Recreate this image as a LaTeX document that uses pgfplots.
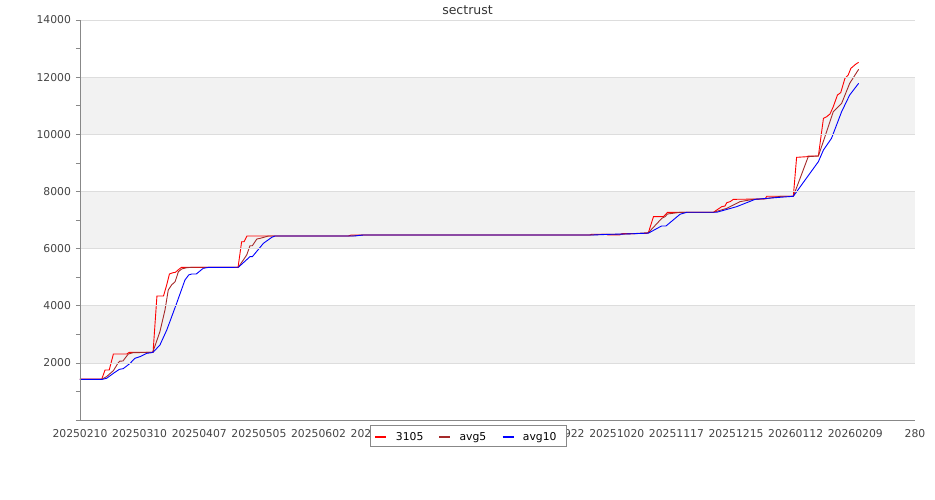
\documentclass[border=0pt]{standalone}
\usepackage{fontspec}
\setmainfont{DejaVu Sans}
\usepackage{pgfplots}
\pgfplotsset{compat=1.18}
\definecolor{bandgray}{HTML}{F2F2F2}
\definecolor{gridgray}{HTML}{DDDDDD}
\definecolor{axgray}{HTML}{888888}
\definecolor{lblgray}{HTML}{444444}
\definecolor{avgbrown}{HTML}{A52A2A}
\begin{document}
\begin{tikzpicture}
\begin{axis}[
 axis on top,
 scale only axis, width=835pt, height=400pt,
 at={(0pt,0pt)}, anchor=south west,
 xmin=0, xmax=280, ymin=0, ymax=14000,
 scaled y ticks=false, scaled x ticks=false,
 axis x line*=bottom, axis y line*=left,
 axis line style={-, draw=axgray, line width=0.8pt},
 xtick={0,20,...,280},
 xticklabels={20250210,20250310,20250407,20250505,20250602,20250630,20250728,20250825,20250922,20251020,20251117,20251215,20260112,20260209,280},
 x tick style={draw=none},
 ytick={0,2000,4000,6000,8000,10000,12000,14000},
 yticklabels={{},2000,4000,6000,8000,10000,12000,14000},
 minor y tick num=1,
 y tick style={draw=axgray, line width=0.6pt},
 tick align=outside,
 major tick length=4pt, minor tick length=4pt,
 ymajorgrids, grid style={gridgray, line width=0.6pt},
 tick label style={font=\fontsize{10.8}{12}\selectfont, text=lblgray},
 xticklabel style={yshift=-2pt},
 yticklabel style={xshift=-1.5pt},
]
\fill[bandgray] (axis cs:0,2000) rectangle (axis cs:280,4000);
\fill[bandgray] (axis cs:0,6000) rectangle (axis cs:280,8000);
\fill[bandgray] (axis cs:0,10000) rectangle (axis cs:280,12000);
\addplot[color=red, line width=0.9pt] coordinates {
(0,1430) (7.3,1430) (8.4,1750) (9.8,1750) (11.2,2310) (15.7,2310) (16.5,2368) (24.5,2368) (25.8,4340) (28,4340) (29,4700) (30,5110) (31,5150) (32,5170) (33,5260) (34,5340) (53,5340) (54.2,6240) (55,6240) (56,6440) (90,6440) (91,6475) (171,6475) (171.6,6500) (176.6,6500) (177,6475) (181,6475) (181.6,6520) (190,6530) (190.6,6556) (192.3,7117) (195.6,7117) (196.5,7210) (197,7268) (212.4,7268) (213.5,7350) (215.2,7467) (216.3,7490) (216.9,7607) (218,7642) (219.1,7723) (229.7,7735) (230.3,7830) (239.2,7830) (240.3,9193) (243.9,9217) (244.2,9240) (247.6,9240) (249.3,10558) (250.4,10617) (251.5,10710) (252.6,10967) (254,11375) (255.1,11457) (256.5,11958) (257.6,12075) (258.5,12308) (260.2,12460) (261.1,12518)
};
\addplot[color=avgbrown, line width=0.9pt] coordinates {
(0,1424) (7.3,1424) (8.9,1517) (11.2,1727) (12.8,2000) (13.4,2060) (14.4,2065) (16.2,2310) (17.9,2357) (24.4,2368) (26.8,3092) (28.5,3850) (29.6,4550) (30.7,4725) (31.9,4842) (33,5192) (34.1,5285) (35.8,5332) (38,5345) (53.1,5345) (55.9,5775) (57,6100) (57.8,6100) (59.3,6335) (60.4,6358) (63.2,6440) (91,6440) (95,6475) (171,6475) (175,6495) (181,6500) (186,6525) (190.6,6556) (195.1,7058) (196.2,7117) (197,7210) (201.2,7268) (212.4,7268) (216.9,7408) (221.3,7642) (225.8,7723) (230,7745) (235,7830) (239.2,7830) (244.2,9217) (247.6,9240) (249.8,9917) (252.6,10792) (255.4,11083) (258.1,11783) (261.1,12273)
};
\addplot[color=blue, line width=0.9pt] coordinates {
(0,1424) (7.5,1424) (8.9,1458) (11.2,1633) (13.2,1773) (14.5,1797) (16.8,1983) (18.4,2158) (20.1,2217) (22.4,2333) (24,2357) (24.6,2380) (26.8,2625) (29.1,3150) (32.4,4083) (35.2,4900) (36.5,5080) (37.5,5110) (39,5110) (41.3,5308) (43,5340) (53.1,5345) (57,5717) (57.8,5717) (61.5,6183) (64.3,6393) (65.4,6440) (92,6440) (95,6475) (172,6475) (178,6500) (183,6510) (190.6,6540) (195,6790) (196.5,6790) (201.2,7200) (203.5,7270) (213.5,7270) (220.2,7467) (226.4,7723) (230.3,7758) (239.2,7830) (247.6,9042) (249.3,9450) (252,9858) (255.4,10792) (258.1,11375) (261.1,11783)
};
\end{axis}
% legend box
\filldraw[fill=white, draw=axgray, line width=0.8pt] (290pt,-26pt) rectangle (486pt,-5pt);
\draw[red, line width=2pt] (295pt,-17.5pt) -- (306pt,-17.5pt);
\draw[avgbrown, line width=2pt] (359pt,-17.5pt) -- (370pt,-17.5pt);
\draw[blue, line width=2pt] (422.7pt,-17.5pt) -- (434pt,-17.5pt);
\begin{scope}[every node/.style={anchor=base west, inner sep=0pt, font=\fontsize{10.8}{12}\selectfont, text=black}]
\node at (315.7pt,-20.7pt) {3105};
\node at (379.3pt,-20.7pt) {avg5};
\node at (442.7pt,-20.7pt) {avg10};
\end{scope}
\node[font=\fontsize{12.5}{14}\selectfont, text=black!80] at (387.5pt,410pt) {sectrust};
\pgfresetboundingbox
\useasboundingbox (-80pt,-80pt) rectangle (855pt,420pt);
\end{tikzpicture}
\end{document}
